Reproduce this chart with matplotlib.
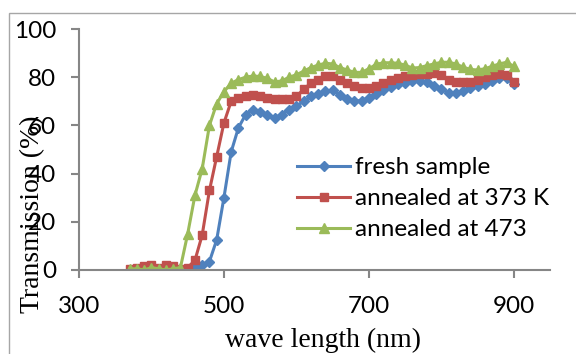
import numpy as np
import matplotlib
matplotlib.use("Agg")
import matplotlib.pyplot as plt
from matplotlib.patches import Rectangle

# wavelength grid (nm)
wl = list(range(370, 901, 10))

fresh = [0, 0, 0, -0.5, 0, 0, 0, 0, 0.5, 1,
         2, 3.5, 12.5, 30, 49, 59, 64.5, 66.3, 65.5, 64.2,
         63.2, 64.5, 66.5, 68, 70, 72, 73, 74.3, 74.5, 72.8,
         71, 70, 70.3, 71.5, 73, 74.5, 76, 77, 77.8, 78.3,
         78.5, 78, 76.5, 75, 73.5, 73.5, 74.2, 75.5, 76.5, 77.3,
         78.5, 79.5, 79.5, 77]
ann373 = [0.5, 1, 1.5, 2, 1, 2, 1.5, 0.5, 1, 4,
          14.5, 33, 47, 61, 70, 71.5, 72, 72.5, 72, 71.5,
          71, 71, 71, 72, 75, 77.5, 79, 80.5, 80.5, 79,
          77.5, 76.5, 75.5, 75.5, 76.3, 77.5, 78.8, 79.7, 80.3, 80.9,
          81.2, 81.5, 81.6, 81, 79, 78.2, 78, 78, 78.8, 80,
          81, 81.5, 80.8, 78]
ann473 = [0.5, 0.5, 0, 1, 0.5, 0, 0.5, 1, 15, 31,
          42, 60, 69, 74, 77.5, 79, 80, 80.5, 80.3, 79.5,
          78, 78.5, 80, 81, 82.5, 84, 85, 85.8, 85.5, 84,
          83, 82, 82, 83.5, 85.3, 86, 86, 85.8, 85, 83.8,
          84, 84.8, 85.5, 86.2, 86.2, 85.5, 84.2, 83.2, 83, 83.5,
          84.5, 85.5, 86.2, 84.5]

labels = ["fresh sample", "annealed at 373 K", "annealed at 473"]
xticks = [300, 500, 700, 900]
yticks = [0, 20, 40, 60, 80, 100]

W, H = 576, 354
fig = plt.figure(figsize=(W / 100, H / 100), dpi=100)
ax = fig.add_axes([79 / W, 1 - 270 / H, (550 - 79) / W, (270 - 29) / H])

ax.plot(wl, fresh, color="#4F81BD", lw=2.2, marker="D", ms=5, label=labels[0])
ax.plot(wl, ann373, color="#C0504D", lw=2.2, marker="s", ms=5.5, label=labels[1])
ax.plot(wl, ann473, color="#9BBB59", lw=2.2, marker="^", ms=6.5, label=labels[2])

ax.set_xlim(300, 950)
ax.set_ylim(0, 100)
ax.set_xticks(xticks)
ax.set_yticks(yticks)
for s in ["top", "right"]:
    ax.spines[s].set_visible(False)
for s in ["left", "bottom"]:
    ax.spines[s].set_color("#868686")
    ax.spines[s].set_linewidth(1.5)
ax.tick_params(direction="out", length=5.5, width=1.5, color="#868686",
               labelsize=17.5, pad=11)
ax.tick_params(axis="x", pad=13)
for t in ax.get_xticklabels() + ax.get_yticklabels():
    t.set_fontfamily("Lato")

leg = ax.legend(loc="upper left", bbox_to_anchor=(297 / W, 1 - 157 / H),
                bbox_transform=fig.transFigure, frameon=False,
                prop={"family": "Lato", "size": 17.5}, handlelength=2.2,
                handletextpad=0.2, labelspacing=0.42, borderpad=0,
                borderaxespad=0)

fig.text(33 / W, 1 - 214 / H, "Transmission (%)", rotation=90, ha="center",
         va="center", family="Liberation Serif", fontsize=20)
fig.text(323 / W, 1 - 340 / H, "wave length (nm)", ha="center", va="center",
         family="Liberation Serif", fontsize=20)

fig.patches.append(Rectangle((9 / W, -0.1), 1.2, 1.1 - 13 / H + 0.0,
                             transform=fig.transFigure, fill=False,
                             edgecolor="#A6A6A6", lw=1))

fig.savefig("out.png", dpi=100)
